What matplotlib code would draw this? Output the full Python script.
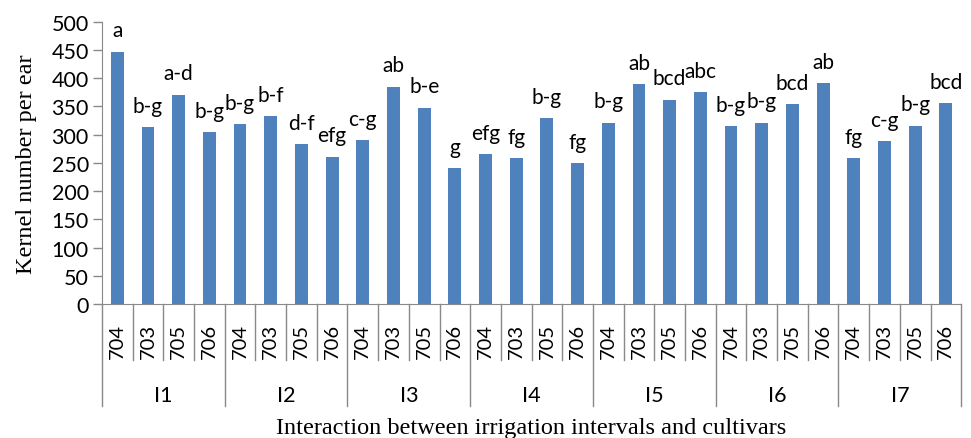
#!/usr/bin/env python3

import numpy as np
import matplotlib
matplotlib.use('Agg')
import matplotlib.pyplot as plt
import matplotlib.transforms as mtransforms

# data
groups = ['I1', 'I2', 'I3', 'I4', 'I5', 'I6', 'I7']
cultivars = ['704', '703', '705', '706']
kernels = [447, 313, 371, 304,
           319, 333, 283, 261,
           290, 385, 348, 241,
           265, 258, 329, 250,
           321, 389, 362, 375,
           315, 321, 354, 391,
           258, 288, 316, 356]
letters = ['a', 'b-g', 'a-d', 'b-g',
           'b-g', 'b-f', 'd-f', 'efg',
           'c-g', 'ab', 'b-e', 'g',
           'efg', 'fg', 'b-g', 'fg',
           'b-g', 'ab', 'bcd', 'abc',
           'b-g', 'b-g', 'bcd', 'ab',
           'fg', 'c-g', 'b-g', 'bcd']

sans = 'Lato'
serif = 'Liberation Serif'
grey = '#898989'

fig = plt.figure(figsize=(9.71, 4.39), dpi=100)
ax = fig.add_axes([0.105, 0.3052, 0.8849, 0.6431])

x = np.arange(len(kernels))
ax.bar(x, kernels, width=0.42, color='#4F81BD', zorder=2)

for xi, yi, lab in zip(x, kernels, letters):
    ax.annotate(lab, (xi, yi), xytext=(0, 11), textcoords='offset points',
                ha='center', va='baseline', fontsize=15, family=sans)

ax.set_xlim(-0.5, len(kernels) - 0.5)
ax.set_ylim(0, 500)
ax.set_yticks(np.arange(0, 501, 50))
ax.tick_params(axis='y', direction='out', length=6.5, width=1, color=grey,
               pad=3, labelsize=15.5)
for t in ax.get_yticklabels():
    t.set_family(sans)
ax.set_xticks([])

for s in ['top', 'right']:
    ax.spines[s].set_visible(False)
ax.spines['left'].set_color(grey)
ax.spines['bottom'].set_color(grey)

# two level category axis
trans = mtransforms.blended_transform_factory(ax.transData, ax.transAxes)
ncult = len(cultivars)
for i in range(len(kernels) + 1):
    bottom = -0.361 if i % ncult == 0 else -0.198
    ax.plot([i - 0.5, i - 0.5], [0, bottom], color=grey, lw=1,
            transform=trans, clip_on=False)
for i, xi in enumerate(x):
    ax.text(xi, -0.1275, cultivars[i % ncult], rotation=90, ha='center',
            va='center', fontsize=14.5, family=sans, transform=trans)
for g, name in enumerate(groups):
    ax.text(g * ncult + (ncult - 1) / 2, -0.322, name, ha='center',
            va='center', fontsize=15.5, family=sans, transform=trans)

ax.text(0.5, -0.436, 'Interaction between irrigation intervals and cultivars',
        ha='center', va='center', fontsize=17.5, family=serif,
        transform=ax.transAxes)
ax.set_ylabel('Kernel number per ear', fontsize=17.5, family=serif,
              labelpad=10)

fig.savefig('out.png', dpi=100)
